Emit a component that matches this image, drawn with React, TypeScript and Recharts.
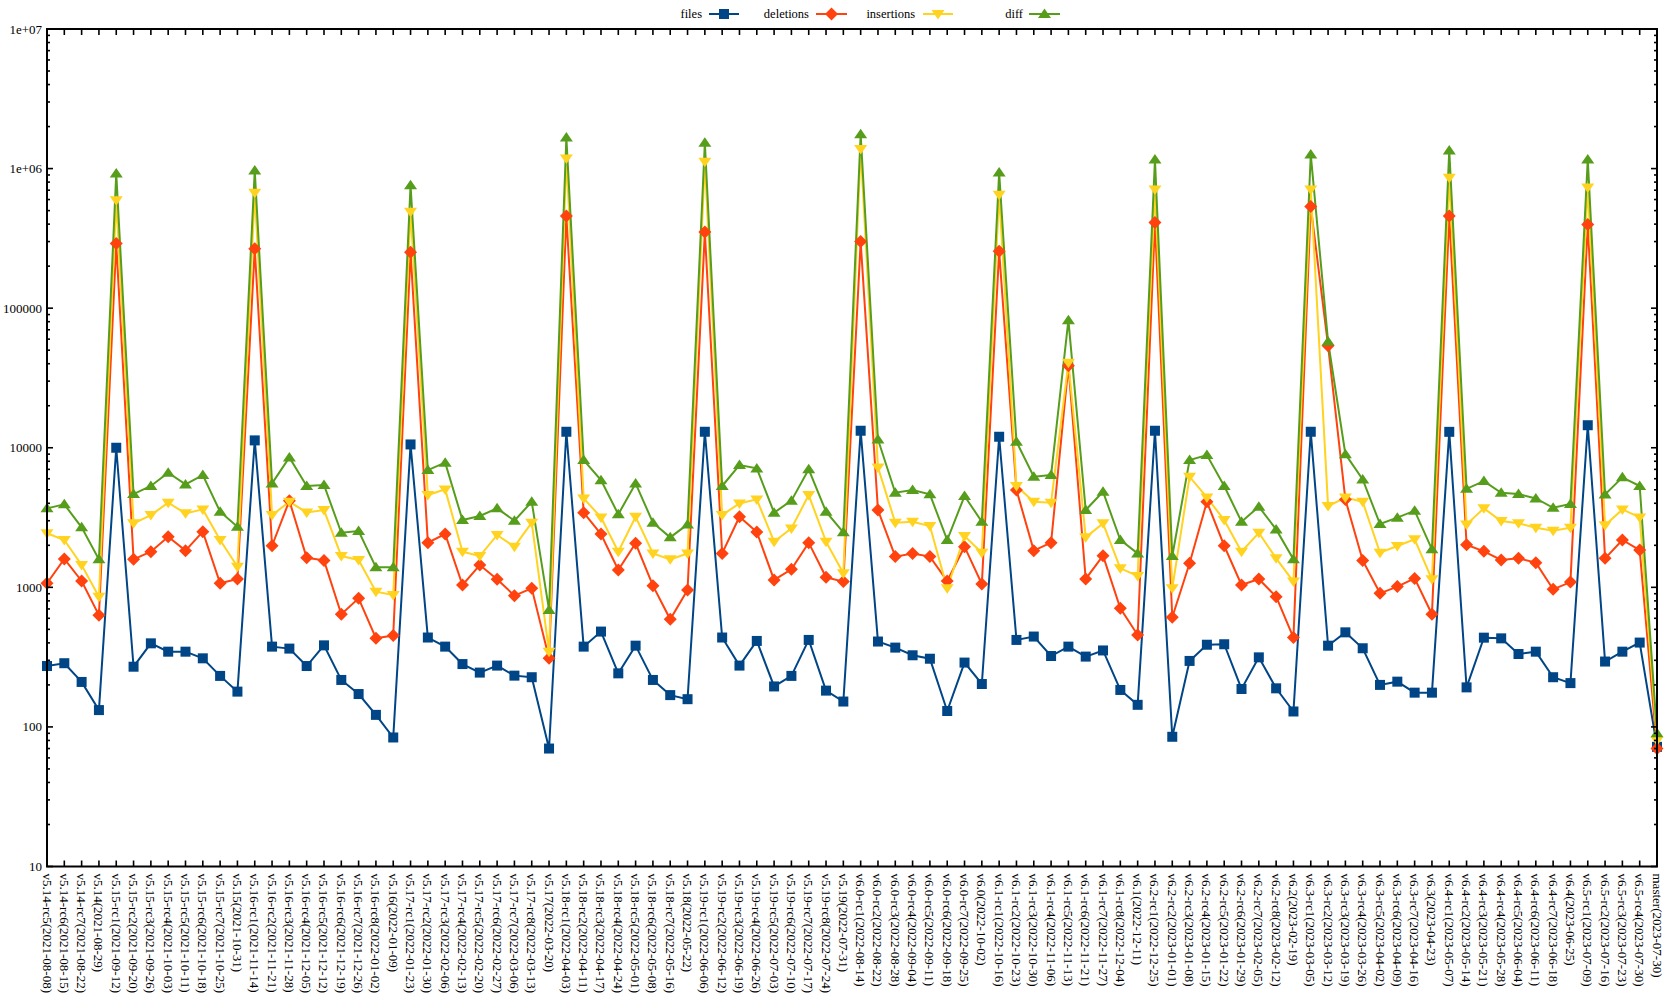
import React from 'react';
import { LineChart, Line, XAxis, YAxis } from 'recharts';

const categories: string[] = [
  'v5.14-rc5(2021-08-08)', 'v5.14-rc6(2021-08-15)', 'v5.14-rc7(2021-08-22)', 'v5.14(2021-08-29)',
  'v5.15-rc1(2021-09-12)', 'v5.15-rc2(2021-09-20)', 'v5.15-rc3(2021-09-26)', 'v5.15-rc4(2021-10-03)',
  'v5.15-rc5(2021-10-11)', 'v5.15-rc6(2021-10-18)', 'v5.15-rc7(2021-10-25)', 'v5.15(2021-10-31)',
  'v5.16-rc1(2021-11-14)', 'v5.16-rc2(2021-11-21)', 'v5.16-rc3(2021-11-28)', 'v5.16-rc4(2021-12-05)',
  'v5.16-rc5(2021-12-12)', 'v5.16-rc6(2021-12-19)', 'v5.16-rc7(2021-12-26)', 'v5.16-rc8(2022-01-02)',
  'v5.16(2022-01-09)', 'v5.17-rc1(2022-01-23)', 'v5.17-rc2(2022-01-30)', 'v5.17-rc3(2022-02-06)',
  'v5.17-rc4(2022-02-13)', 'v5.17-rc5(2022-02-20)', 'v5.17-rc6(2022-02-27)', 'v5.17-rc7(2022-03-06)',
  'v5.17-rc8(2022-03-13)', 'v5.17(2022-03-20)', 'v5.18-rc1(2022-04-03)', 'v5.18-rc2(2022-04-11)',
  'v5.18-rc3(2022-04-17)', 'v5.18-rc4(2022-04-24)', 'v5.18-rc5(2022-05-01)', 'v5.18-rc6(2022-05-08)',
  'v5.18-rc7(2022-05-16)', 'v5.18(2022-05-22)', 'v5.19-rc1(2022-06-06)', 'v5.19-rc2(2022-06-12)',
  'v5.19-rc3(2022-06-19)', 'v5.19-rc4(2022-06-26)', 'v5.19-rc5(2022-07-03)', 'v5.19-rc6(2022-07-10)',
  'v5.19-rc7(2022-07-17)', 'v5.19-rc8(2022-07-24)', 'v5.19(2022-07-31)', 'v6.0-rc1(2022-08-14)',
  'v6.0-rc2(2022-08-22)', 'v6.0-rc3(2022-08-28)', 'v6.0-rc4(2022-09-04)', 'v6.0-rc5(2022-09-11)',
  'v6.0-rc6(2022-09-18)', 'v6.0-rc7(2022-09-25)', 'v6.0(2022-10-02)', 'v6.1-rc1(2022-10-16)',
  'v6.1-rc2(2022-10-23)', 'v6.1-rc3(2022-10-30)', 'v6.1-rc4(2022-11-06)', 'v6.1-rc5(2022-11-13)',
  'v6.1-rc6(2022-11-21)', 'v6.1-rc7(2022-11-27)', 'v6.1-rc8(2022-12-04)', 'v6.1(2022-12-11)',
  'v6.2-rc1(2022-12-25)', 'v6.2-rc2(2023-01-01)', 'v6.2-rc3(2023-01-08)', 'v6.2-rc4(2023-01-15)',
  'v6.2-rc5(2023-01-22)', 'v6.2-rc6(2023-01-29)', 'v6.2-rc7(2023-02-05)', 'v6.2-rc8(2023-02-12)',
  'v6.2(2023-02-19)', 'v6.3-rc1(2023-03-05)', 'v6.3-rc2(2023-03-12)', 'v6.3-rc3(2023-03-19)',
  'v6.3-rc4(2023-03-26)', 'v6.3-rc5(2023-04-02)', 'v6.3-rc6(2023-04-09)', 'v6.3-rc7(2023-04-16)',
  'v6.3(2023-04-23)', 'v6.4-rc1(2023-05-07)', 'v6.4-rc2(2023-05-14)', 'v6.4-rc3(2023-05-21)',
  'v6.4-rc4(2023-05-28)', 'v6.4-rc5(2023-06-04)', 'v6.4-rc6(2023-06-11)', 'v6.4-rc7(2023-06-18)',
  'v6.4(2023-06-25)', 'v6.5-rc1(2023-07-09)', 'v6.5-rc2(2023-07-16)', 'v6.5-rc3(2023-07-23)',
  'v6.5-rc4(2023-07-30)', 'master(2023-07-30)',
];

const files: number[] = [
  273, 286, 210, 132, 10000, 270, 397, 346, 346, 310, 232, 179,
  11290, 376, 364, 273, 384, 217, 172, 122, 84,
  10560, 437, 376, 282, 245, 275, 233, 227, 70,
  13020, 376, 482, 242, 382, 217, 169, 158,
  13020, 437, 275, 413, 195, 232, 420, 182, 152,
  13240, 409, 370, 326, 308, 130, 289, 203,
  11990, 420, 444, 322, 376, 319, 353, 184, 144,
  13240, 85, 297, 388, 391, 187, 315, 189, 129,
  13020, 382, 476, 366, 200, 211, 176, 176,
  13000, 192, 436, 431, 333, 346, 227, 206,
  14500, 294, 346, 402, 72,
];

const deletions: number[] = [
  1069, 1597, 1110, 631, 290000, 1586, 1799, 2305, 1832, 2506, 1069, 1148,
  266000, 1986, 4180, 1629, 1560, 641, 834, 432, 451,
  252000, 2089, 2410, 1040, 1445, 1141, 872, 984, 310,
  457000, 3428, 2410, 1330, 2069, 1028, 590, 957,
  351000, 1750, 3206, 2490, 1130, 1346, 2089, 1180, 1099,
  300000, 3578, 1660, 1750, 1660, 1110, 1955, 1057,
  256000, 4977, 1832, 2089, 38600, 1148, 1687, 708, 456,
  411000, 610, 1486, 4100, 1986, 1040, 1148, 857, 437,
  535000, 53800, 4250, 1560, 906, 1012, 1159, 641,
  457000, 2019, 1811, 1570, 1614, 1503, 968, 1091,
  397000, 1614, 2183, 1849, 70,
];

const insertions: number[] = [
  2440, 2183, 1445, 857, 594000, 2873, 3296, 4038, 3388, 3617, 2183, 1406,
  671000, 3296, 4100, 3443, 3578, 1675, 1570, 931, 881,
  490000, 4583, 5032, 1799, 1675, 2372, 1955, 2905, 346,
  1180000, 4335, 3170, 1799, 3206, 1750, 1586, 1750,
  1120000, 3296, 3993, 4266, 2123, 2643, 4583, 2123, 1260,
  1380000, 7230, 2905, 2953, 2748, 984, 2333, 1770,
  649000, 5320, 4100, 4038, 40600, 2280, 2873, 1368, 1205,
  708000, 984, 6200, 4406, 3033, 1799, 2460, 1614, 1099,
  708000, 3820, 4400, 4100, 1770, 1977, 2207, 1141,
  859000, 2825, 3680, 2987, 2873, 2673, 2545, 2673,
  733000, 2780, 3614, 3170, 80,
];

const diff: number[] = [
  3680, 3930, 2690, 1586, 921000, 4660, 5320, 6625, 5460, 6370, 3480, 2717,
  970000, 5555, 8530, 5320, 5410, 2460, 2530, 1390, 1390,
  760000, 6920, 7815, 3033, 3245, 3680, 3000, 4100, 689,
  1670000, 8160, 5860, 3335, 5555, 2905, 2280, 2825,
  1530000, 5320, 7515, 7115, 3428, 4180, 7000, 3484, 2477,
  1760000, 11470, 4764, 4977, 4636, 2183, 4510, 2953,
  937000, 11040, 6200, 6370, 82000, 3578, 4840, 2183, 1750,
  1160000, 1675, 8160, 8860, 5320, 2953, 3784, 2600, 1586,
  1260000, 57700, 9000, 5930, 2840, 3157, 3542, 1871,
  1350000, 5080, 5770, 4760, 4660, 4330, 3715, 3953,
  1160000, 4630, 6135, 5320, 90,
];

const majorTicks: number[] = [10, 100, 1000, 10000, 100000, 1000000, 10000000];
const majorTickLabels: string[] = ['10', '100', '1000', '10000', '100000', '1e+06', '1e+07'];
const seriesNames: string[] = ['files', 'deletions', 'insertions', 'diff'];

const COLORS: Record<string, string> = {
  files: '#004586',
  deletions: '#ff420e',
  insertions: '#ffd320',
  diff: '#579d1c',
};

const W = 1666;
const H = 995;
const LEFT = 47;
const RIGHT = 1657;
const TOP = 29;
const BOTTOM = 866.5;
const FONT = "'Liberation Serif', 'Times New Roman', serif";

const data = categories.map((name, i) => ({
  name,
  files: files[i],
  deletions: deletions[i],
  insertions: insertions[i],
  diff: diff[i],
}));

const minorTicks: number[] = [];
majorTicks.slice(0, -1).forEach((m) => {
  for (let k = 2; k <= 9; k++) minorTicks.push(m * k);
});
const yTicks = [...majorTicks, ...minorTicks].sort((a, b) => a - b);

function markerShape(series: string, cx: number, cy: number, key: string, color: string) {
  if (series === 'files') {
    return <rect key={key} x={cx - 5} y={cy - 5} width={10} height={10} fill={color} />;
  }
  if (series === 'deletions') {
    return (
      <polygon key={key} points={`${cx},${cy - 6.5} ${cx + 6.5},${cy} ${cx},${cy + 6.5} ${cx - 6.5},${cy}`} fill={color} />
    );
  }
  if (series === 'insertions') {
    return (
      <polygon key={key} points={`${cx - 6.5},${cy - 4} ${cx + 6.5},${cy - 4} ${cx},${cy + 5.5}`} fill={color} />
    );
  }
  return (
    <polygon key={key} points={`${cx - 6.5},${cy + 4} ${cx + 6.5},${cy + 4} ${cx},${cy - 5.5}`} fill={color} />
  );
}

const makeDot = (series: string) => (props: any) => {
  const { cx, cy, index } = props;
  const key = `${series}-${index}`;
  if (cx == null || cy == null || isNaN(cx) || isNaN(cy)) return <g key={key} />;
  return markerShape(series, cx, cy, key, COLORS[series]);
};

const YTick = (props: any) => {
  const { y, payload } = props;
  const v = payload.value as number;
  const mi = majorTicks.indexOf(v);
  const isMajor = mi >= 0;
  const len = isMajor ? 6 : 3;
  return (
    <g>
      <line x1={LEFT} x2={LEFT + len} y1={y} y2={y} stroke="#000" strokeWidth={1.6} />
      <line x1={RIGHT - len} x2={RIGHT} y1={y} y2={y} stroke="#000" strokeWidth={1.6} />
      {isMajor && (
        <text x={LEFT - 5} y={y} textAnchor="end" dominantBaseline="central" fontSize={13} fontFamily={FONT} fill="#000">
          {majorTickLabels[mi]}
        </text>
      )}
    </g>
  );
};

const XTick = (props: any) => {
  const { x, payload } = props;
  return (
    <g>
      <line x1={x} x2={x} y1={BOTTOM} y2={BOTTOM - 6} stroke="#000" strokeWidth={1.6} />
      <line x1={x} x2={x} y1={TOP} y2={TOP + 6} stroke="#000" strokeWidth={1.6} />
      <text
        transform={`translate(${x - 4.5}, ${BOTTOM + 7}) rotate(90)`}
        textAnchor="start"
        fontSize={13}
        fontFamily={FONT}
        fill="#000"
      >
        {payload.value}
      </text>
    </g>
  );
};

const legendItems = [
  { name: seriesNames[0], textRight: 702, lineX1: 709, lineX2: 739 },
  { name: seriesNames[1], textRight: 809, lineX1: 816, lineX2: 847 },
  { name: seriesNames[2], textRight: 915, lineX1: 923, lineX2: 953 },
  { name: seriesNames[3], textRight: 1023, lineX1: 1029, lineX2: 1060 },
];

export default function App() {
  return (
    <div style={{ position: 'absolute', left: 0, top: 0, width: W, height: H, background: '#fff' }}>
      <LineChart
        width={W}
        height={H}
        data={data}
        margin={{ top: TOP, right: W - RIGHT, bottom: 0, left: 0 }}
      >
        <XAxis
          dataKey="name"
          type="category"
          scale="point"
          padding={{ left: 0, right: 0 }}
          interval={0}
          height={H - BOTTOM}
          tick={<XTick />}
          tickLine={false}
          axisLine={false}
        />
        <YAxis
          type="number"
          scale="log"
          domain={[10, 10000000]}
          allowDataOverflow
          ticks={yTicks}
          interval={0}
          width={LEFT}
          tick={<YTick />}
          tickLine={false}
          axisLine={false}
        />
        {seriesNames.map((s) => (
          <Line
            key={s}
            type="linear"
            dataKey={s}
            stroke={COLORS[s]}
            strokeWidth={2}
            dot={makeDot(s)}
            activeDot={false}
            isAnimationActive={false}
            legendType="none"
          />
        ))}
      </LineChart>
      <svg
        width={W}
        height={H}
        style={{ position: 'absolute', left: 0, top: 0, pointerEvents: 'none' }}
      >
        <rect x={LEFT} y={TOP} width={RIGHT - LEFT} height={BOTTOM - TOP} fill="none" stroke="#000" strokeWidth={2} />
        {legendItems.map((it) => {
          const cx = (it.lineX1 + it.lineX2) / 2;
          const color = COLORS[it.name];
          return (
            <g key={it.name}>
              <text x={it.textRight} y={14} textAnchor="end" dominantBaseline="central" fontSize={12.5} fontFamily={FONT} fill="#000">
                {it.name}
              </text>
              <line x1={it.lineX1} x2={it.lineX2} y1={14} y2={14} stroke={color} strokeWidth={2} />
              {markerShape(it.name, cx, 14, `lg-${it.name}`, color)}
            </g>
          );
        })}
      </svg>
    </div>
  );
}
